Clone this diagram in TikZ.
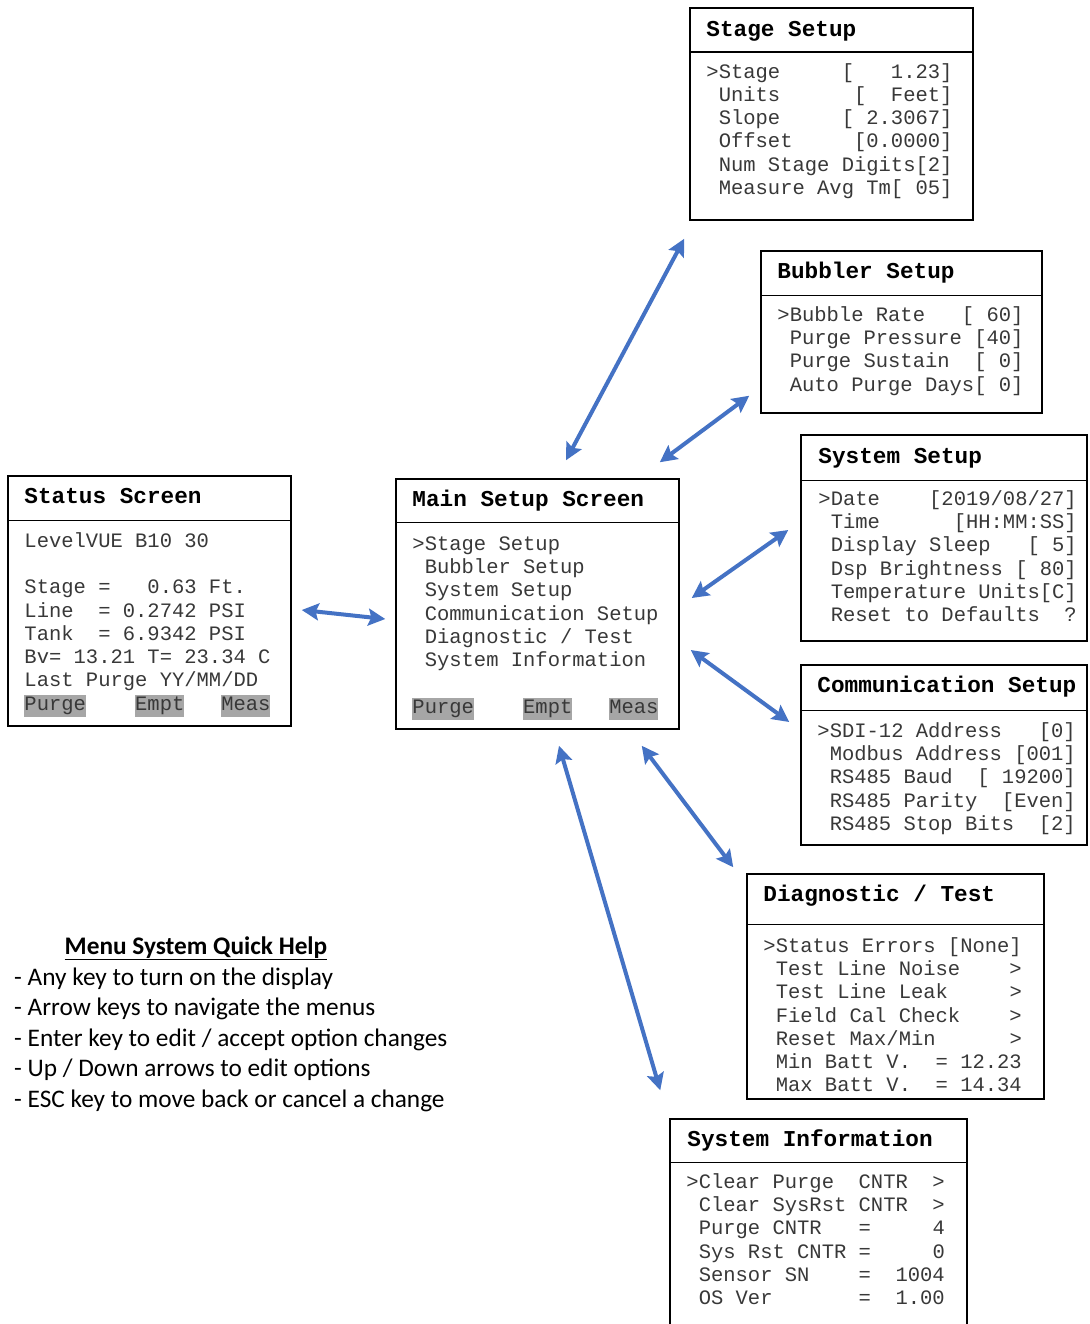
\documentclass[tikz,border=0pt]{standalone}
\usepackage{fontspec}
\setmainfont{Carlito}
\setmonofont{Liberation Mono}
\usetikzlibrary{arrows.meta}
\frenchspacing
\definecolor{linkblue}{RGB}{68,114,196}
\definecolor{keygray}{RGB}{166,166,166}
\newcommand{\keybox}[1]{{\setlength{\fboxsep}{0pt}\colorbox{keygray}{\rule[-7pt]{0pt}{22pt}#1}}}
\tikzset{
  screen/.style={rectangle, draw=black, line width=1.5pt, inner sep=0pt},
  divider/.style={line width=1.5pt},
  scrtitle/.style={anchor=base west, inner sep=0pt, font=\fontsize{22.7}{26}\selectfont\ttfamily\bfseries},
  scrline/.style={anchor=base west, inner sep=0pt, text=black!78, font=\fontsize{20.5}{23.25}\selectfont\ttfamily},
  helptext/.style={anchor=base west, inner sep=0pt, font=\fontsize{25.3}{30}\selectfont},
  link/.style={<->, draw=linkblue, line width=4pt}
}

\begin{document}
\begin{tikzpicture}[x=1pt, y=-1pt, >={Stealth[length=17pt,width=17pt,inset=3pt]}]
\useasboundingbox (0,0) rectangle (1089,1324);

% Status screen
\node[screen, minimum width=283, minimum height=250] (status) at (149.5,601) {};
\draw[divider] ([shift={(0,45)}]status.north west) -- ([shift={(0,45)}]status.north east);
\node[scrtitle] (statusT) at ([shift={(17,28)}]status.north west) {Status Screen};
\foreach \l [count=\i] in {LevelVUE~B10~30, {}, Stage~=~~~0.63~Ft., Line~~=~0.2742~PSI,
    Tank~~=~6.9342~PSI, Bv=~13.21~T=~23.34~C, Last~Purge~YY/MM/DD,
    {\keybox{Purge}~~~~\keybox{Empt}~~~\keybox{Meas}}}
  \node[scrline] (status\i) at ([shift={(17,{72+23.25*(\i-1)})}]status.north west) {\l};

% Main setup screen
\node[screen, minimum width=283, minimum height=250] (main) at (537.5,604) {};
\draw[divider] ([shift={(0,44)}]main.north west) -- ([shift={(0,44)}]main.north east);
\node[scrtitle] (mainT) at ([shift={(17,28)}]main.north west) {Main Setup Screen};
\foreach \l [count=\i] in {>Stage~Setup, ~Bubbler~Setup, ~System~Setup, ~Communication~Setup,
    ~Diagnostic~/~Test, ~System~Information, {},
    {\keybox{Purge}~~~~\keybox{Empt}~~~\keybox{Meas}}}
  \node[scrline] (main\i) at ([shift={(17,{72+23.25*(\i-1)})}]main.north west) {\l};

% Stage setup
\node[screen, minimum width=283, minimum height=212] (stage) at (831.5,114) {};
\draw[divider] ([shift={(0,45)}]stage.north west) -- ([shift={(0,45)}]stage.north east);
\node[scrtitle] (stageT) at ([shift={(17,29)}]stage.north west) {Stage Setup};
\foreach \l [count=\i] in {>Stage~~~~~[~~~1.23], ~Units~~~~~~[~~Feet], ~Slope~~~~~[~2.3067],
    ~Offset~~~~~[0.0000], ~Num~Stage~Digits[2], ~Measure~Avg~Tm[~05]}
  \node[scrline] (stage\i) at ([shift={(17,{71+23.25*(\i-1)})}]stage.north west) {\l};

% Bubbler setup
\node[screen, minimum width=281, minimum height=162] (bubbler) at (901.5,332) {};
\draw[divider] ([shift={(0,45)}]bubbler.north west) -- ([shift={(0,45)}]bubbler.north east);
\node[scrtitle] (bubblerT) at ([shift={(17,28)}]bubbler.north west) {Bubbler Setup};
\foreach \l [count=\i] in {>Bubble~Rate~~~[~60], ~Purge~Pressure~[40], ~Purge~Sustain~~[~0],
    ~Auto~Purge~Days[~0]}
  \node[scrline] (bubbler\i) at ([shift={(17,{71+23.25*(\i-1)})}]bubbler.north west) {\l};

% System setup
\node[screen, minimum width=286, minimum height=206] (syssetup) at (944,538) {};
\draw[divider] ([shift={(0,46)}]syssetup.north west) -- ([shift={(0,46)}]syssetup.north east);
\node[scrtitle] (syssetupT) at ([shift={(18,29)}]syssetup.north west) {System Setup};
\foreach \l [count=\i] in {>Date~~~~[2019/08/27], ~Time~~~~~~[HH:MM:SS], ~Display~Sleep~~~[~5],
    ~Dsp~Brightness~[~80], ~Temperature~Units[C], ~Reset~to~Defaults~~?}
  \node[scrline] (syssetup\i) at ([shift={(18,{71+23.25*(\i-1)})}]syssetup.north west) {\l};

% Communication setup
\node[screen, minimum width=286, minimum height=180] (comm) at (944,755) {};
\draw[divider] ([shift={(0,46)}]comm.north west) -- ([shift={(0,46)}]comm.north east);
\node[scrtitle] (commT) at ([shift={(17,28)}]comm.north west) {Communication Setup};
\foreach \l [count=\i] in {>SDI-12~Address~~~[0], ~Modbus~Address~[001], ~RS485~Baud~~[~19200],
    ~RS485~Parity~~[Even], ~RS485~Stop~Bits~~[2]}
  \node[scrline] (comm\i) at ([shift={(17,{73+23.25*(\i-1)})}]comm.north west) {\l};

% Diagnostic / test
\node[screen, minimum width=297, minimum height=225] (diag) at (895.5,986.5) {};
\draw[divider] ([shift={(0,51)}]diag.north west) -- ([shift={(0,51)}]diag.north east);
\node[scrtitle] (diagT) at ([shift={(17,28)}]diag.north west) {Diagnostic / Test};
\foreach \l [count=\i] in {>Status~Errors~[None], ~Test~Line~Noise~~~~>, ~Test~Line~Leak~~~~~>,
    ~Field~Cal~Check~~~~>, ~Reset~Max/Min~~~~~~>, ~Min~Batt~V.~~=~12.23, ~Max~Batt~V.~~=~14.34}
  \node[scrline] (diag\i) at ([shift={(17,{79+23.25*(\i-1)})}]diag.north west) {\l};

% System information (runs off the bottom)
\node[screen, minimum width=297, minimum height=221] (sysinfo) at (818.5,1229.5) {};
\draw[divider] ([shift={(0,44)}]sysinfo.north west) -- ([shift={(0,44)}]sysinfo.north east);
\node[scrtitle] (sysinfoT) at ([shift={(18,28)}]sysinfo.north west) {System Information};
\foreach \l [count=\i] in {>Clear~Purge~~CNTR~~>, ~Clear~SysRst~CNTR~~>, ~Purge~CNTR~~~=~~~~~4,
    ~Sys~Rst~CNTR~=~~~~~0, ~Sensor~SN~~~~=~~1004, ~OS~Ver~~~~~~~=~~1.00}
  \node[scrline] (sysinfo\i) at ([shift={(17,{70+23.25*(\i-1)})}]sysinfo.north west) {\l};

% Quick help
\node[helptext, anchor=base, font=\fontsize{25.3}{30}\selectfont\bfseries] (helpT) at (196,954)
  {\underline{Menu System Quick Help}};
\foreach \l [count=\i] in {- Any key to turn on the display, - Arrow keys to navigate the menus,
    - Enter key to edit / accept option changes, - Up / Down arrows to edit options,
    - ESC key to move back or cancel a change}
  \node[helptext] (help\i) at (14,{985+30.5*(\i-1)}) {\l};

% Links between screens
\draw[link] ([shift={(10,9)}]status.east) -- ([shift={(-10,15)}]main.west);
\draw[link] ([shift={(28.5,-18)}]main.north) -- ([shift={(-5,18)}]stage.south west);
\draw[link] ([shift={(-20,-16)}]main.north east) -- ([shift={(-11,-18)}]bubbler.south west);
\draw[link] ([shift={(12,-6)}]main.east) -- ([shift={(-12,-8)}]syssetup.west);
\draw[link] ([shift={(11,46)}]main.east) -- ([shift={(-11,-33)}]comm.west);
\draw[link] ([shift={(-38,16)}]main.south east) -- ([shift={(-13,-6)}]diag.north west);
\draw[link] ([shift={(21.5,16)}]main.south) -- ([shift={(-9,-28)}]sysinfo.north west);

\end{tikzpicture}
\end{document}
